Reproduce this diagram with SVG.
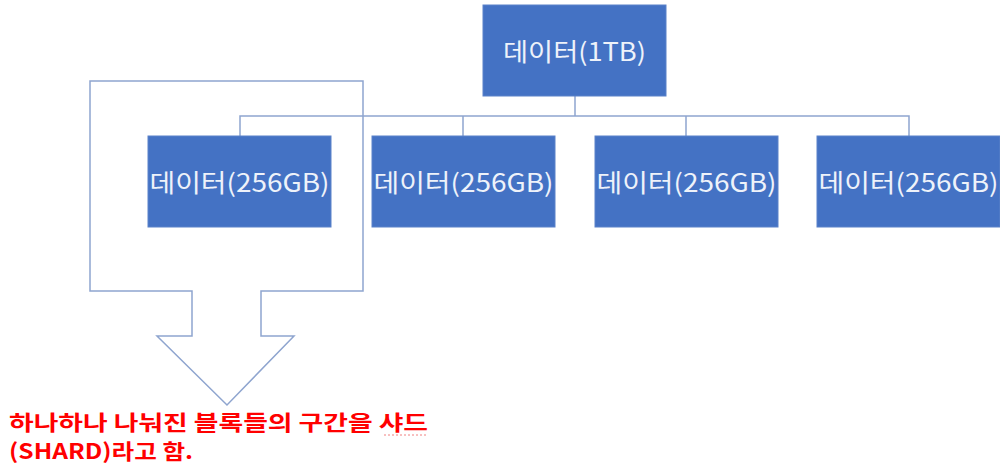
<svg xmlns="http://www.w3.org/2000/svg" width="1000" height="467" viewBox="0 0 1000 467">
<style>
.box{fill:#4472C4;stroke:#5B82C9;stroke-width:1}
.lbl{font-family:"Noto Sans CJK KR","Noto Sans",sans-serif;font-size:25px;fill:#EEF2FA;text-anchor:middle}
.con{fill:none;stroke:#8FA5CF;stroke-width:1.5}
.note{font-family:"Noto Sans CJK KR",sans-serif;font-size:21px;font-weight:bold;fill:#FF0000}
</style>
<rect width="1000" height="467" fill="#ffffff"/>
<g id="connectors">
<path class="con" d="M575,96 V116 M240,136 V116 H909 V136 M463,116 V136 M686,116 V136"/>
</g>
<g id="callout">
<path class="con" d="M90,81 H363 V291 H261 V336 H294 L227,405 L157,336 H192 V291 H90 Z"/>
</g>
<g id="root">
<rect class="box" x="483" y="5" width="183" height="91"/>
<text class="lbl" x="574.5" y="61" textLength="143" lengthAdjust="spacingAndGlyphs">데이터(1TB)</text>
</g>
<g id="child1">
<rect class="box" x="148" y="136" width="183" height="91"/>
<text class="lbl" x="239.5" y="192" textLength="180" lengthAdjust="spacingAndGlyphs">데이터(256GB)</text>
</g>
<g id="child2">
<rect class="box" x="372" y="136" width="183" height="91"/>
<text class="lbl" x="463.5" y="192" textLength="180" lengthAdjust="spacingAndGlyphs">데이터(256GB)</text>
</g>
<g id="child3">
<rect class="box" x="595" y="136" width="183" height="91"/>
<text class="lbl" x="686.5" y="192" textLength="180" lengthAdjust="spacingAndGlyphs">데이터(256GB)</text>
</g>
<g id="child4">
<rect class="box" x="817" y="136" width="183" height="91"/>
<text class="lbl" x="908.5" y="192" textLength="180" lengthAdjust="spacingAndGlyphs">데이터(256GB)</text>
</g>
<g id="note">
<text class="note" x="9" y="430" textLength="419" lengthAdjust="spacingAndGlyphs">하나하나 나눠진 블록들의 구간을 샤드</text>
<text class="note" x="9" y="459" textLength="184" lengthAdjust="spacingAndGlyphs">(SHARD)라고 함.</text>
<line x1="384" y1="435" x2="428" y2="435" stroke="#F08080" stroke-width="1" stroke-dasharray="2,2"/>
</g>
</svg>
